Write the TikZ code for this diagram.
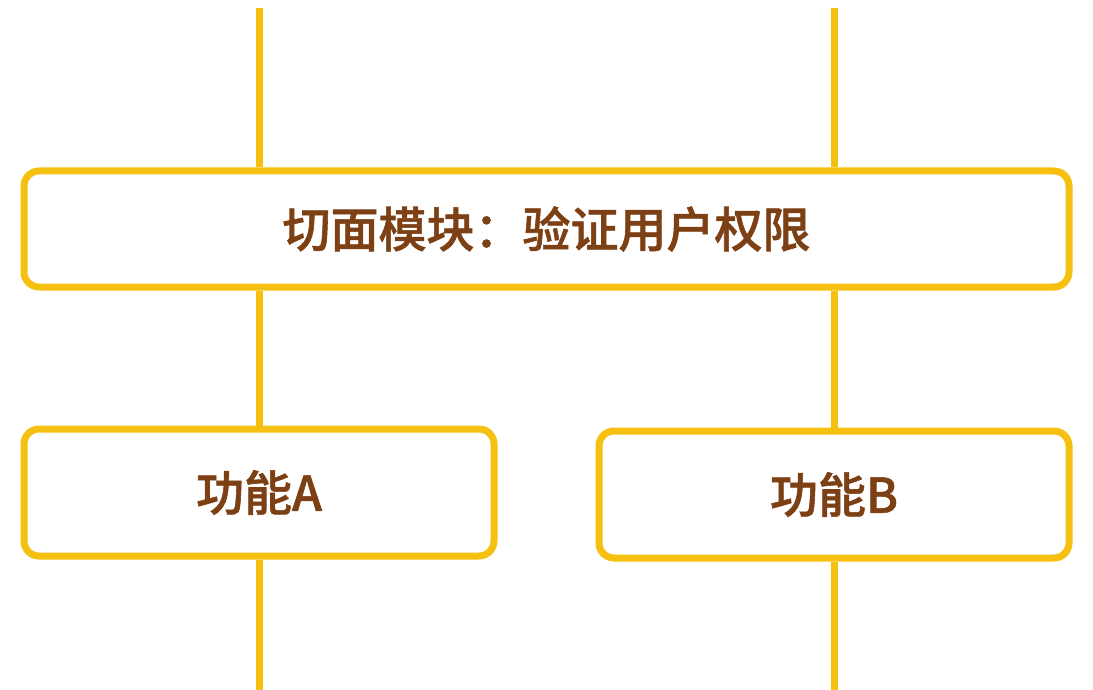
\documentclass[tikz,border=0pt]{standalone}
\usepackage{fontspec}
\newfontfamily\cjkfont{Noto Sans CJK SC}[BoldFont={Noto Sans CJK SC Medium}, BoldFeatures={FakeBold=1.2}]
\definecolor{aopyellow}{RGB}{245,192,16}
\definecolor{aopbrown}{RGB}{124,64,20}

\begin{document}
\begin{tikzpicture}[x=1pt, y=1pt, node distance=263.5pt, line width=7pt, color=aopyellow, every node/.style={rectangle, draw, rounded corners=15pt, align=center, minimum width=470pt, minimum height=127pt, text=aopbrown, font=\cjkfont\bfseries\fontsize{48pt}{58pt}\selectfont}]
\useasboundingbox (0,0) rectangle (1093,-690);
\node (aspect) [minimum width=1045pt, minimum height=116pt] at (546.5,-229) {切面模块：验证用户权限};
\node (funcA) [below of=aspect, xshift=-287.5pt] {功能A};
\node (funcB) [below of=aspect, xshift=287.5pt, yshift=-2pt] {功能B};

\coordinate (inA) at (259,-8);
\coordinate (inB) at (834,-8);
\coordinate (outA) at (259,-690);
\coordinate (outB) at (834,-690);

\draw (inA) -- (inA |- aspect.north);
\draw (inB) -- (inB |- aspect.north);
\draw (aspect.south -| funcA) -- (funcA);
\draw (aspect.south -| funcB) -- (funcB);
\draw (funcA) -- (outA);
\draw (funcB) -- (outB);
\end{tikzpicture}
\end{document}
